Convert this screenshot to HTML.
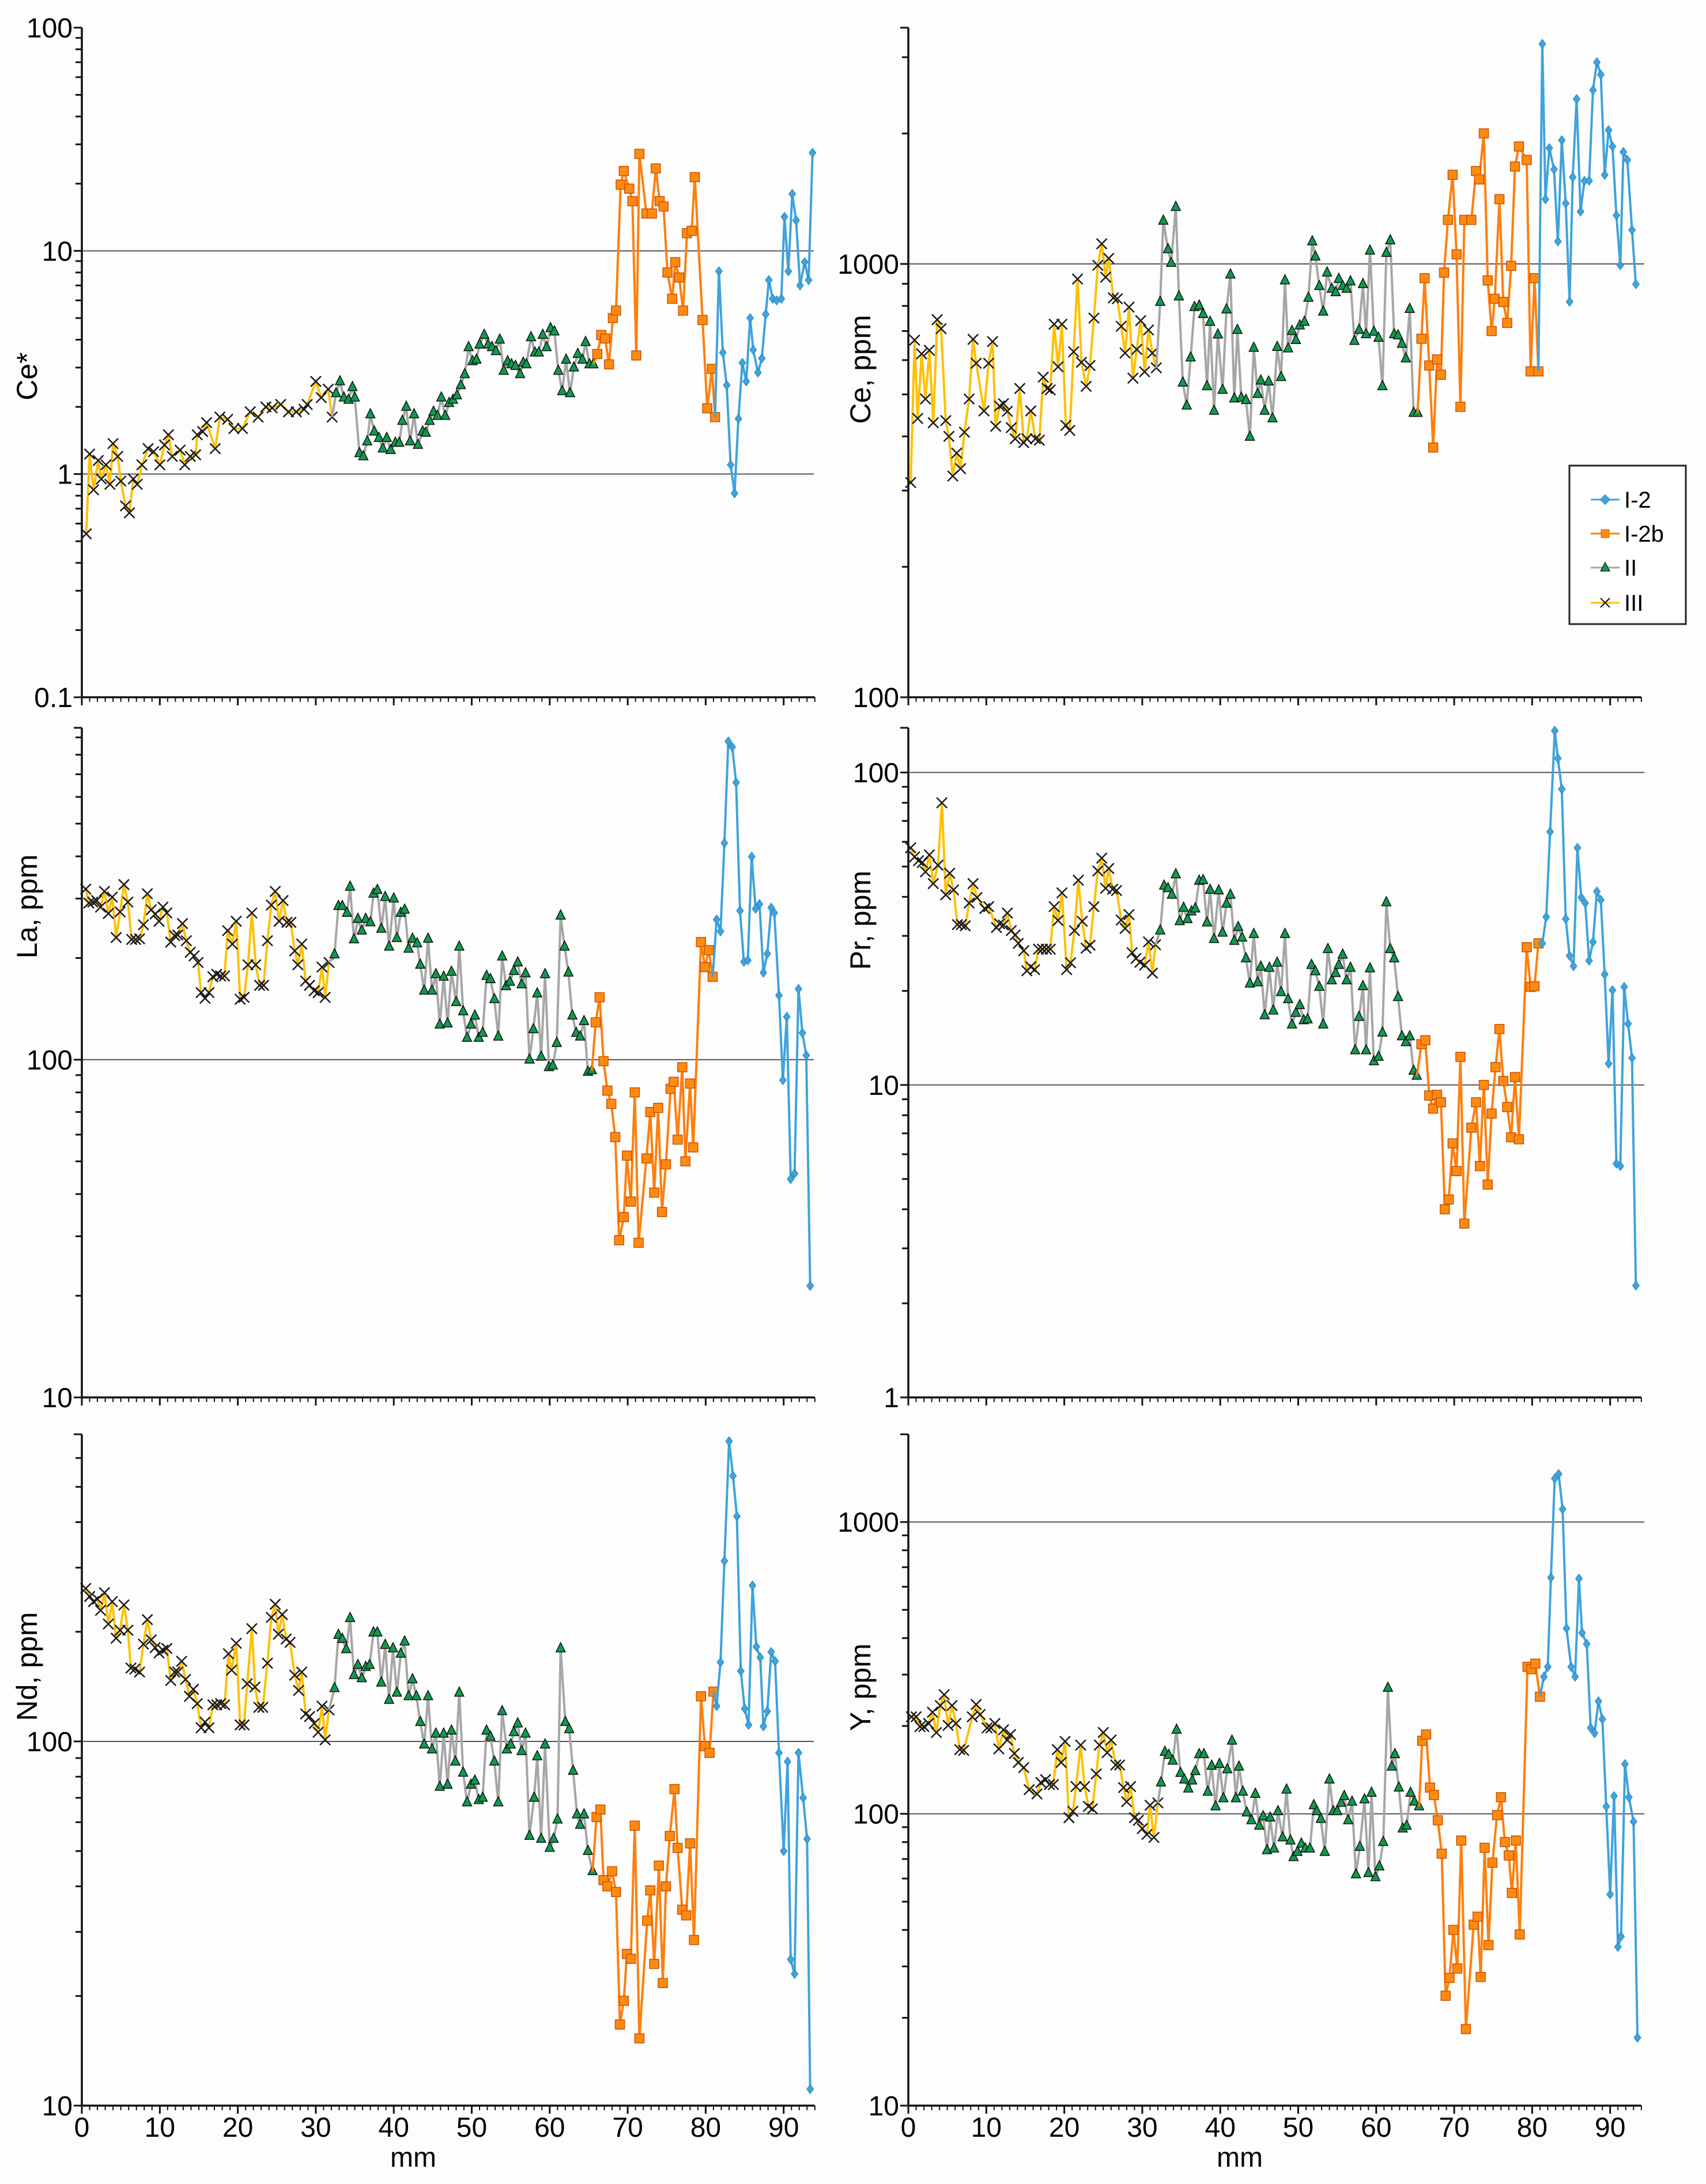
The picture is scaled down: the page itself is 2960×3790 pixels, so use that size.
<!DOCTYPE html>
<html><head><meta charset="utf-8">
<style>
html,body{margin:0;padding:0;background:#fdfdfd;}
svg{display:block;font-family:"Liberation Sans",Arial,sans-serif;}
</style></head>
<body>
<svg id="chart" width="2960" height="3790" viewBox="0 0 2960 3790" xmlns="http://www.w3.org/2000/svg">
<rect x="0" y="0" width="2960" height="3790" fill="#fdfdfd"/>
<g id="legend">
  <rect x="2723" y="808" width="202" height="275" fill="#fff" stroke="#222" stroke-width="3"/>
  <g>
    <line x1="2760" y1="867" x2="2810" y2="867" stroke="#3fa3dc" stroke-width="3"/>
    <rect x="2779" y="861" width="12" height="12" fill="#3fa3dc" stroke="#2a88c0" transform="rotate(45 2785 867)"/>
    <text x="2818" y="881" font-size="40">I-2</text>
  </g>
  <g>
    <line x1="2760" y1="926" x2="2810" y2="926" stroke="#ff7f0e" stroke-width="3"/>
    <rect x="2778" y="919" width="14" height="14" fill="#ff8a10" stroke="#d35a00"/>
    <text x="2818" y="940" font-size="40">I-2b</text>
  </g>
  <g>
    <line x1="2760" y1="985" x2="2810" y2="985" stroke="#a6a6a6" stroke-width="3"/>
    <polygon points="2785,976 2793,991 2777,991" fill="#0f9a4e" stroke="#111" stroke-width="1.2"/>
    <text x="2818" y="999" font-size="40">II</text>
  </g>
  <g>
    <line x1="2760" y1="1046" x2="2810" y2="1046" stroke="#ffc000" stroke-width="3"/>
    <path d="M2777 1038 L2793 1054 M2793 1038 L2777 1054" stroke="#111" stroke-width="2"/>
    <text x="2818" y="1060" font-size="40">III</text>
  </g>
</g>
</svg>
<script>
// ---------- data (mm, value) ----------
const ceStarIIIx=[0.56,1.0,1.5,2.1,2.5,3.1,3.6,4.0,4.6,5.0,5.6,6.1,6.6,7.1,7.7,8.5,9.2,10.0,10.6,11.1,11.6,12.6,13.2,13.9,14.6,14.8,15.5,16.0,17.1,17.7,18.7,19.5,20.6,21.6,22.6,23.6,24.4,25.5,26.5,27.5,28.5,28.9,30.0,30.7,31.6,32.1];
const ceStarIIIy=[0.54,1.23,0.85,1.15,0.95,1.1,0.9,1.37,1.2,0.93,0.72,0.67,0.95,0.9,1.1,1.3,1.26,1.1,1.35,1.5,1.2,1.28,1.1,1.2,1.22,1.5,1.55,1.7,1.3,1.8,1.76,1.6,1.6,1.9,1.8,2.0,1.98,2.05,1.9,1.9,1.95,2.05,2.6,2.2,2.4,1.8];
const ceStarIIx=[32.6,33.1,33.6,34.2,34.7,35.0,35.6,36.1,36.6,37.0,37.5,38.1,38.6,39.1,39.6,40.2,40.7,41.1,41.6,42.1,42.6,43.1,43.7,44.1,44.6,45.1,45.6,46.1,46.6,47.1,47.6,48.1,48.6,49.1,49.6,50.1,50.6,51.0,51.6,52.1,52.6,53.1,53.6,54.1,54.6,55.1,55.6,56.2,56.6,57.0,57.6,58.1,58.6,59.1,59.6,60.1,60.6,61.1,61.6,62.1,62.6,63.1,63.6,64.2,64.6,65.1,65.6];
const ceStarIIy=[2.3,2.6,2.2,2.15,2.45,2.2,1.24,1.2,1.4,1.85,1.55,1.45,1.3,1.45,1.28,1.38,1.38,1.73,2.0,1.4,1.85,1.35,1.55,1.53,1.73,1.9,1.82,2.2,1.82,2.08,2.15,2.25,2.5,2.8,3.7,3.2,3.25,3.8,4.2,3.8,3.7,3.55,4.0,2.9,3.2,3.1,3.05,2.8,3.15,3.1,4.1,3.5,3.5,4.2,3.7,4.5,4.35,2.9,2.35,3.25,2.3,3.0,3.45,3.25,3.9,3.1,3.1];
const ceStarI2bx=[66.1,66.6,67.1,67.6,68.1,68.5,69.1,69.5,70.2,70.6,71.1,71.5,72.4,73.1,73.6,74.1,74.6,75.1,75.7,76.1,76.6,77.1,77.6,78.2,78.6,79.6,80.2,80.8,81.2];
const ceStarI2by=[3.45,4.2,4.05,3.1,5.0,5.4,19.8,22.8,19,16.7,3.4,27.2,14.7,14.7,23.4,16.7,15.8,8.0,6.1,8.9,7.6,5.4,12.0,12.3,21.4,4.9,1.97,2.96,1.8];
const ceStarI2x=[81.7,82.2,82.7,83.2,83.7,84.2,84.7,85.2,85.7,86.1,86.7,87.2,87.7,88.1,88.6,89.1,89.7,90.1,90.6,91.1,91.6,92.1,92.7,93.2,93.7];
const ceStarI2y=[8.1,3.5,2.5,1.1,0.82,1.77,3.15,2.6,5.0,3.6,2.85,3.3,5.2,7.4,6.1,6.0,6.1,14.2,8.1,18,13.7,7,8.9,7.4,27.5];

const ceIIIx=[0.3,0.8,1.2,1.7,2.2,2.7,3.2,3.7,4.2,4.8,5.2,5.7,6.2,6.7,7.2,7.8,8.3,8.7,9.7,10.3,10.8,11.2,11.7,12.2,12.7,13.2,13.7,14.3,14.8,15.2,15.7,16.3,16.8,17.3,17.8,18.2,18.7,19.2,19.7,20.2,20.7,21.2,21.7,22.2,22.8,23.3,23.8,24.3,24.8,25.3,25.7,26.3,26.8,27.3,27.8,28.3,28.8,29.3,29.8,30.3,30.8,31.3,31.8];
const ceIIIy=[313,667,440,620,488,632,430,744,709,435,400,324,366,337,409,488,670,590,458,590,662,422,470,476,457,419,395,516,387,395,458,395,392,548,516,512,726,579,726,424,413,627,923,593,522,583,750,993,1113,932,1030,835,831,718,623,795,545,635,740,564,704,623,576];
const ceIIx=[32.3,32.7,33.3,33.7,34.3,34.7,35.2,35.7,36.2,36.7,37.3,37.8,38.3,38.7,39.2,39.7,40.3,40.8,41.3,41.8,42.2,42.7,43.3,43.8,44.3,44.8,45.2,45.7,46.2,46.7,47.3,47.8,48.3,48.7,49.2,49.7,50.2,50.8,51.3,51.8,52.2,52.7,53.2,53.7,54.3,54.8,55.2,55.7,56.2,56.7,57.2,57.8,58.3,58.7,59.2,59.7,60.3,60.8,61.3,61.8,62.3,62.8,63.3,63.8,64.3,64.8,65.3];
const ceIIy=[817,1258,1081,1005,1353,841,532,471,608,795,801,766,522,735,458,687,512,785,945,489,704,491,485,399,640,501,538,458,535,440,643,548,916,638,700,667,721,735,835,1127,1040,889,776,955,876,860,923,889,876,911,664,704,898,688,1073,697,675,522,1060,1133,688,684,654,605,787,453,453];
const ceI2bx=[65.8,66.2,66.8,67.3,67.8,68.3,68.7,69.2,69.8,70.3,70.8,71.3,72.2,72.8,73.2,73.8,74.3,74.8,75.2,75.8,76.3,76.8,77.3,77.8,78.3,79.3,79.8,80.3,80.8];
const ceI2by=[672,927,583,377,602,555,955,1264,1606,1052,468,1264,1264,1638,1567,2001,916,700,831,1411,817,731,990,1678,1867,1738,565,927,565];
const ceI2x=[81.3,81.7,82.2,82.8,83.3,83.8,84.3,84.8,85.2,85.7,86.2,86.7,87.3,87.8,88.3,88.8,89.3,89.8,90.3,90.8,91.3,91.7,92.2,92.8,93.3];
const ceI2y=[3220,1411,1850,1653,1127,1930,1380,818,1586,2402,1321,1555,1557,2520,2920,2735,1605,2036,1867,1295,993,1813,1738,1198,898];

const laIIIx=[0.5,0.9,1.4,1.9,2.4,2.9,3.4,3.9,4.4,4.9,5.4,5.9,6.4,6.9,7.4,7.9,8.4,8.9,9.4,9.9,10.4,10.9,11.4,11.9,12.3,12.9,13.4,13.9,14.4,14.9,15.3,15.8,16.3,16.8,17.3,17.8,18.3,18.7,19.3,19.8,20.3,20.8,21.3,21.8,22.3,22.8,23.3,23.8,24.3,24.8,25.3,25.8,26.3,26.8,27.3,27.7,28.2,28.7,29.2,29.8,30.3,30.8,31.2,31.7];
const laIIIy=[320,291,293,296,283,315,271,303,230,274,330,293,227,227,228,251,310,278,270,257,283,272,223,233,234,253,225,208,203,194,158,152,158,176,179,177,177,241,220,257,151,153,191,272,191,166,166,225,287,315,257,296,255,255,210,191,220,171,166,160,158,188,153,194];
const laIIx=[32.4,32.9,33.4,34.0,34.4,34.9,35.4,35.9,36.4,37.0,37.4,37.9,38.4,38.9,39.4,40.0,40.4,40.9,41.4,41.9,42.4,43.0,43.4,43.9,44.4,44.9,45.4,45.9,46.4,46.9,47.4,48.0,48.4,48.9,49.4,49.9,50.4,50.9,51.4,51.9,52.4,52.9,53.4,53.9,54.4,54.9,55.4,55.9,56.4,56.9,57.4,57.9,58.4,58.9,59.4,59.9,60.4,60.9,61.4,61.9,62.4,62.9,63.4,63.9,64.4,64.9,65.4];
const laIIy=[205,285,285,272,325,227,261,241,261,255,310,318,244,303,216,300,229,272,278,213,228,221,191,160,228,160,179,127,176,128,182,148,216,139,116,127,135,116,120,177,173,151,117,202,165,170,183,194,167,180,100,123,157,102,179,95,96,112,267,216,181,135,120,117,130,92,93];
const laI2bx=[65.9,66.4,66.9,67.4,67.9,68.4,68.9,69.5,69.9,70.4,70.9,71.4,72.4,72.9,73.4,73.9,74.4,74.9,75.5,75.9,76.4,77.0,77.4,78.0,78.4,79.4,79.9,80.4,80.9];
const laI2by=[129,153,99,81,74,59,29.2,34.2,52,38,80,28.7,51,70,40.4,72,35.4,49,82,86,58,95,50,85,55,223,188,211,176];
const laI2x=[81.4,81.9,82.4,82.9,83.4,83.9,84.4,84.9,85.4,85.9,86.4,86.9,87.4,87.9,88.4,88.8,89.4,89.9,90.4,90.9,91.4,91.9,92.4,92.9,93.4];
const laI2y=[260,240,438,876,843,662,276,195,197,399,280,289,181,206,282,272,155,87,134,44.3,46,162,120,103,21.4];

const prIIIx=[0.3,0.8,1.3,1.8,2.2,2.7,3.2,3.8,4.3,4.8,5.3,5.8,6.3,6.8,7.3,7.8,8.3,8.8,9.8,10.3,11.3,11.7,12.2,12.7,13.2,13.7,14.1,14.8,15.2,15.7,16.2,16.7,17.2,17.7,18.2,18.7,19.2,19.7,20.3,20.8,21.3,21.8,22.3,22.8,23.3,23.8,24.3,24.8,25.3,25.7,26.2,26.7,27.3,27.8,28.3,28.7,29.2,29.7,30.3,30.8,31.3,31.7];
const prIIIy=[57.4,53.7,52.2,51.5,48.1,54.5,44.1,50.5,80,40.6,47.6,42.1,32.6,32.6,32.3,38.2,44.1,39.8,36.7,37.2,31.9,32.8,32.5,35.5,31.2,30.2,28.4,26.9,23.2,23.9,23.4,27.2,27.2,27.2,27.2,37.2,33.6,41.2,23.4,24.6,31.2,45.2,33.4,27.4,28.0,37.2,48.4,53.2,42.6,49.3,42.3,41.9,33.7,31.7,35.1,26.5,25.4,24.7,24.2,28.7,22.8,28.1];
const prIIx=[32.3,32.8,33.3,33.8,34.3,34.8,35.3,35.8,36.3,36.8,37.3,37.8,38.3,38.7,39.2,39.8,40.3,40.8,41.3,41.8,42.3,42.8,43.3,43.8,44.3,44.8,45.2,45.7,46.3,46.8,47.3,47.8,48.3,48.7,49.2,49.7,50.2,50.7,51.2,51.7,52.2,52.7,53.2,53.8,54.3,54.8,55.2,55.7,56.2,56.7,57.3,57.8,58.3,58.7,59.2,59.7,60.3,60.8,61.3,61.8,62.3,62.8,63.3,63.8,64.3,64.8,65.2];
const prIIy=[31.2,43.4,42.6,40.6,47.2,33.4,36.9,33.9,35.9,36.7,45.0,45.2,33.1,42.1,29.3,41.9,30.7,38.0,40.6,28.9,32.0,29.6,25.4,21.1,30.4,21.3,23.9,16.7,23.7,17.3,24.6,19.8,30.4,18.8,15.6,17.0,18.0,16.1,16.2,24.2,23.1,20.6,15.6,27.2,21.6,22.8,24.2,26.1,21.6,23.7,12.9,16.5,20.7,12.9,23.6,11.9,12.3,14.7,38.4,27.2,25.4,19.1,14.3,13.7,14.3,11.1,10.7];
const prI2bx=[65.8,66.3,66.8,67.3,67.8,68.3,68.8,69.3,69.8,70.3,70.8,71.3,72.2,72.8,73.3,73.8,74.3,74.8,75.3,75.8,76.3,76.8,77.3,77.8,78.3,79.3,79.8,80.3,80.8];
const prI2by=[13.5,13.9,9.25,8.4,9.3,8.8,4.0,4.3,6.5,5.3,12.3,3.6,7.3,8.8,5.5,10,4.8,8.1,11.4,15.1,10.3,8.5,6.8,10.6,6.7,27.6,20.6,20.7,28.4];
const prI2x=[81.3,81.8,82.3,82.9,83.3,83.8,84.3,84.8,85.3,85.8,86.3,86.8,87.3,87.8,88.3,88.8,89.3,89.8,90.3,90.8,91.3,91.8,92.3,92.8,93.3];
const prI2y=[28.4,34.5,64.6,136,111,88.5,34.0,25.9,24.0,57.4,39.8,38.2,25.0,28.7,41.6,39.1,22.6,11.7,20.1,5.6,5.5,20.6,15.7,12.2,2.28];

const ndIIIx=[0.5,1.0,1.5,2.0,2.4,2.9,3.4,3.9,4.4,4.9,5.4,5.9,6.3,6.8,7.4,7.9,8.4,8.9,9.4,9.9,10.4,10.9,11.4,11.9,12.3,12.8,13.3,13.8,14.3,14.8,15.3,15.8,16.3,16.8,17.3,17.8,18.3,18.8,19.2,19.8,20.3,20.8,21.2,21.8,22.2,22.7,23.2,23.8,24.3,24.8,25.2,25.7,26.2,26.7,27.3,27.8,28.2,28.7,29.2,29.8,30.3,30.8,31.2,31.7];
const ndIIIy=[263,250,242,246,229,256,210,242,192,202,237,202,159,158,155,185,216,190,181,175,178,180,147,155,155,166,148,133,139,127,109,113,109,126,126,127,126,174,157,186,111,111,144,204,141,124,124,164,219,238,197,223,191,187,152,138,155,119,117,112,106,125,101,122];
const ndIIx=[32.4,32.9,33.4,33.9,34.4,34.9,35.4,35.9,36.4,36.9,37.4,37.9,38.4,38.9,39.4,39.9,40.4,40.9,41.4,41.9,42.4,42.9,43.4,43.9,44.4,44.9,45.4,45.9,46.4,46.9,47.4,47.9,48.4,48.9,49.4,49.9,50.4,50.9,51.4,51.9,52.4,52.9,53.4,53.9,54.5,55.0,55.4,55.9,56.4,56.9,57.4,58.0,58.4,58.9,59.4,60.0,60.5,61.0,61.4,62.0,62.5,63.0,63.5,63.9,64.4,64.9,65.5];
const ndIIy=[140,196,191,179,218,152,162,149,160,162,199,199,145,184,130,180,136,174,188,133,148,133,113,98,133,95,105,75,105,76,107,88,136,82,68,76,78,69,70,107,103,88,68,121,95,98,106,112,94,105,55,70,91,54,98,51,54,61,180,113,108,83,63,59,63,50,44];
const ndI2bx=[66.0,66.5,66.9,67.4,68.0,68.5,69.0,69.5,69.9,70.4,70.9,71.5,72.5,72.9,73.4,74.0,74.5,74.9,75.4,76.0,76.4,77.0,77.5,78.0,78.5,79.4,79.9,80.5,81.0];
const ndI2by=[62,65,41.6,40,44,38.6,16.7,19.4,26.1,25.3,58.7,15.3,32.2,39,24.5,45.6,21.7,40,55,74,51,34.5,33.3,52.5,28.5,133,97,93,137];
const ndI2x=[81.4,81.9,82.4,83.0,83.5,84.0,84.5,85.0,85.5,86.0,86.5,87.0,87.4,87.9,88.4,88.9,89.4,90.0,90.5,90.9,91.4,91.9,92.5,93.0,93.4];
const ndI2y=[125,165,313,667,536,415,156,123,111,268,182,170,110,121,176,166,93,50,88,25.2,23.0,93,70,54,11.1];

const yIIIx=[0.4,1.0,1.5,2.0,2.6,3.1,3.6,4.1,4.6,5.1,5.6,6.1,6.6,7.1,8.2,8.7,9.2,10.1,10.6,11.1,11.6,12.2,12.7,13.1,13.6,14.1,14.8,15.5,16.5,17.0,17.6,18.1,18.6,19.1,19.6,20.1,20.6,21.1,21.5,22.1,22.6,23.1,23.6,24.1,24.5,25.0,25.5,26.0,26.6,27.1,27.6,28.0,28.5,29.0,29.5,30.0,30.6,31.0,31.5,32.0];
const yIIIy=[215,215,199,199,204,223,190,235,256,201,235,204,166,165,215,237,219,197,197,204,167,194,179,187,161,150,144,121,117,128,131,126,126,166,150,177,97,102,124,172,124,106,104,137,172,190,162,179,147,147,123,110,124,97,95,89,85,107,83,109];
const yIIx=[32.4,32.9,33.4,33.9,34.4,34.9,35.4,35.9,36.4,36.8,37.3,37.9,38.4,38.9,39.4,39.9,40.4,40.9,41.5,42.0,42.4,42.9,43.4,44.0,44.5,45.0,45.5,46.0,46.4,46.9,47.4,48.0,48.5,49.0,49.4,49.9,50.4,50.9,51.5,52.0,52.4,52.9,53.4,54.0,54.5,55.0,55.5,55.9,56.4,56.9,57.4,57.9,58.5,59.0,59.4,59.9,60.4,60.9,61.5,62.0,62.4,62.9,63.4,63.9,64.4,64.9,65.5];
const yIIy=[128,163,159,152,194,138,131,122,130,140,160,160,119,146,106,148,113,142,178,113,145,119,101,95,117,91,98,75,97,76,102,83,121,81,71,74,79,76,76,107,102,96,74,131,102,102,109,115,95,110,62,77,112,62.6,118,60.6,66,80,270,145,160,123,89,91,118,110,106];
const yI2bx=[65.9,66.4,66.9,67.4,67.9,68.4,68.9,69.4,69.9,70.4,70.9,71.5,72.5,73.0,73.4,73.9,74.4,74.9,75.5,76.0,76.5,77.0,77.4,77.9,78.4,79.4,79.9,80.4,81.0];
const yI2by=[178,187,123,116,95,73,23.8,27.4,40,29.5,81,18.3,41.7,44.4,27.6,76.5,35.5,68,99,114,80,72,53.6,81,38.6,319,313,327,252];
const yI2x=[81.5,82.0,82.4,82.9,83.4,83.9,84.4,85.0,85.5,86.0,86.4,87.0,87.5,88.0,88.5,89.0,89.5,90.0,90.5,91.0,91.4,91.9,92.4,93.0,93.5];
const yI2y=[295,319,645,1410,1460,1106,432,319,295,640,417,382,197,189,243,211,106,53,115,35,38,148,114,94,17.1];

const xTickLabels=["0","10","20","30","40","50","60","70","80","90"];
const ceStarTicks=[0.1,1,10,100];
const ceTicks=[100,1000];
const laTicks=[10,100];
const prTicks=[1,10,100];
const ndTicks=[10,100];
const yTicks=[10,100,1000];

// ---------- drawing ----------
const NS="http://www.w3.org/2000/svg";
const svg=document.getElementById('chart');
const legendNode=document.getElementById('legend');
function mk(tag,attrs,parent){const e=document.createElementNS(NS,tag);for(const k in attrs)e.setAttribute(k,attrs[k]);(parent||svg).insertBefore(e,parent?null:legendNode);return e;}

const PXMM=13.53, XMAX=94;
const panels=[
 {name:'ce-star',title:'Ce*',titleY:653,x0:142,top:48,bot:1210,ymin:0.1,ymax:100,ticks:ceStarTicks,grid:[1,10],gridEnd:1412,
  s:[[ceStarIIIx,ceStarIIIy],[ceStarIIx,ceStarIIy],[ceStarI2bx,ceStarI2by],[ceStarI2x,ceStarI2y]],bottom:false},
 {name:'ce',title:'Ce, ppm',titleY:641,x0:1576,top:48,bot:1210,ymin:100,ymax:3510,ticks:ceTicks,grid:[1000],gridEnd:2853,
  s:[[ceIIIx,ceIIIy],[ceIIx,ceIIy],[ceI2bx,ceI2by],[ceI2x,ceI2y]],bottom:false},
 {name:'la',title:'La, ppm',titleY:1573,x0:142,top:1263,bot:2425,ymin:10,ymax:961,ticks:laTicks,grid:[100],gridEnd:1412,
  s:[[laIIIx,laIIIy],[laIIx,laIIy],[laI2bx,laI2by],[laI2x,laI2y]],bottom:false},
 {name:'pr',title:'Pr, ppm',titleY:1597,x0:1576,top:1263,bot:2425,ymin:1,ymax:139,ticks:prTicks,grid:[10,100],gridEnd:2853,
  s:[[prIIIx,prIIIy],[prIIx,prIIy],[prI2bx,prI2by],[prI2x,prI2y]],bottom:false},
 {name:'nd',title:'Nd, ppm',titleY:2892,x0:142,top:2489,bot:3654,ymin:10,ymax:697,ticks:ndTicks,grid:[100],gridEnd:1412,
  s:[[ndIIIx,ndIIIy],[ndIIx,ndIIy],[ndI2bx,ndI2by],[ndI2x,ndI2y]],bottom:true},
 {name:'y',title:'Y, ppm',titleY:2928,x0:1576,top:2489,bot:3654,ymin:10,ymax:1998,ticks:yTicks,grid:[100,1000],gridEnd:2853,
  s:[[yIIIx,yIIIy],[yIIx,yIIy],[yI2bx,yI2by],[yI2x,yI2y]],bottom:true}
];
const styles=[
 {key:'iii',line:'#ffc000',mk:'x'},
 {key:'ii',line:'#a6a6a6',mk:'tri'},
 {key:'i-2b',line:'#ff7f0e',mk:'sq'},
 {key:'i-2',line:'#3fa3dc',mk:'dia'}
];

panels.forEach(p=>{
  const g=mk('g',{});
  
  
  const lmin=Math.log10(p.ymin),lmax=Math.log10(p.ymax);
  const X=v=>p.x0+v*PXMM;
  const Y=v=>p.bot-(Math.log10(v)-lmin)/(lmax-lmin)*(p.bot-p.top);
  const xEnd=X(XMAX);
  p.grid.forEach(gv=>{
    const l=mk('line',{x1:p.x0,x2:p.gridEnd,y1:Y(gv),y2:Y(gv),stroke:'#555','stroke-width':2},g);
    
    
  });
  const yt=mk('g',{},g);
  
  
  for(let e=Math.floor(lmin);e<=Math.ceil(lmax);e++){
    for(let m=1;m<10;m++){
      const v=m*Math.pow(10,e);
      if(v<p.ymin*0.999||v>p.ymax*1.001)continue;
      const yy=Y(v);
      mk('line',{x1:p.x0-(m===1?14:11),x2:p.x0,y1:yy,y2:yy,stroke:'#111','stroke-width':3},yt);
    }
  }
  mk('line',{x1:p.x0-14,x2:p.x0,y1:p.top,y2:p.top,stroke:'#111','stroke-width':3},yt);
  p.ticks.forEach(tv=>{
    const t=mk('text',{x:p.x0-16,y:Y(tv)+17,'text-anchor':'end','font-size':48,fill:'#000'},g);
    t.textContent=String(tv);
    
    
  });
  const ay=mk('line',{x1:p.x0,x2:p.x0,y1:p.top,y2:p.bot,stroke:'#111','stroke-width':3.5},g);
  
  
  const ax=mk('line',{x1:p.x0,x2:xEnd,y1:p.bot,y2:p.bot,stroke:'#111','stroke-width':3.5},g);
  
  
  const xt=mk('g',{},g);
  
  
  for(let mm=0;mm<=XMAX;mm++){
    mk('line',{x1:X(mm),x2:X(mm),y1:p.bot,y2:p.bot+(mm%10===0?14:8),stroke:'#111','stroke-width':(mm%10===0?3:2)},xt);
  }
  if(p.bottom){
    xTickLabels.forEach((lab,i)=>{
      const t=mk('text',{x:X(i*10),y:p.bot+54,'text-anchor':'middle','font-size':48},g);
      t.textContent=lab;
      
      
    });
    const t=mk('text',{x:X(42.5),y:p.bot+106,'text-anchor':'middle','font-size':48},g);
    t.textContent='mm';
    
    
  }
  const tx=p.x0>1000?1510:64, cy=p.titleY;
  const tt=mk('text',{x:tx,y:cy,'text-anchor':'middle','font-size':50,transform:'rotate(-90 '+tx+' '+cy+')'},g);
  tt.textContent=p.title;
  
  
  let prev=null;
  p.s.forEach((ser,si)=>{
    const st=styles[si];
    const sg=mk('g',{},g);
    
    
    const xs=ser[0],ys=ser[1];
    let pts=[];
    if(prev)pts.push(prev);
    for(let i=0;i<xs.length;i++)pts.push([X(xs[i]),Y(ys[i])]);
    mk('polyline',{points:pts.map(q=>q[0].toFixed(1)+','+q[1].toFixed(1)).join(' '),fill:'none',stroke:st.line,'stroke-width':4,'stroke-linejoin':'round'},sg);
    for(let i=0;i<xs.length;i++){
      const cx=X(xs[i]),cy2=Y(ys[i]);let m;
      if(st.mk==='x'){m=mk('path',{d:`M${cx-9} ${cy2-9}L${cx+9} ${cy2+9}M${cx+9} ${cy2-9}L${cx-9} ${cy2+9}`,stroke:'#1a1a1a','stroke-width':2.5},sg);}
      else if(st.mk==='tri'){m=mk('polygon',{points:`${cx},${cy2-10} ${cx+8},${cy2+6} ${cx-8},${cy2+6}`,fill:'#0f9a4e',stroke:'#111','stroke-width':1.5},sg);}
      else if(st.mk==='sq'){m=mk('rect',{x:cx-8,y:cy2-8,width:16,height:16,fill:'#ff8a10',stroke:'#c85400','stroke-width':1.5},sg);}
      else {m=mk('polygon',{points:`${cx},${cy2-8} ${cx+6},${cy2} ${cx},${cy2+8} ${cx-6},${cy2}`,fill:'#3fa3dc',stroke:'#2a88c0','stroke-width':1},sg);}
      
      
    }
    prev=[X(xs[xs.length-1]),Y(ys[ys.length-1])];
  });
});
</script>
</body></html>
